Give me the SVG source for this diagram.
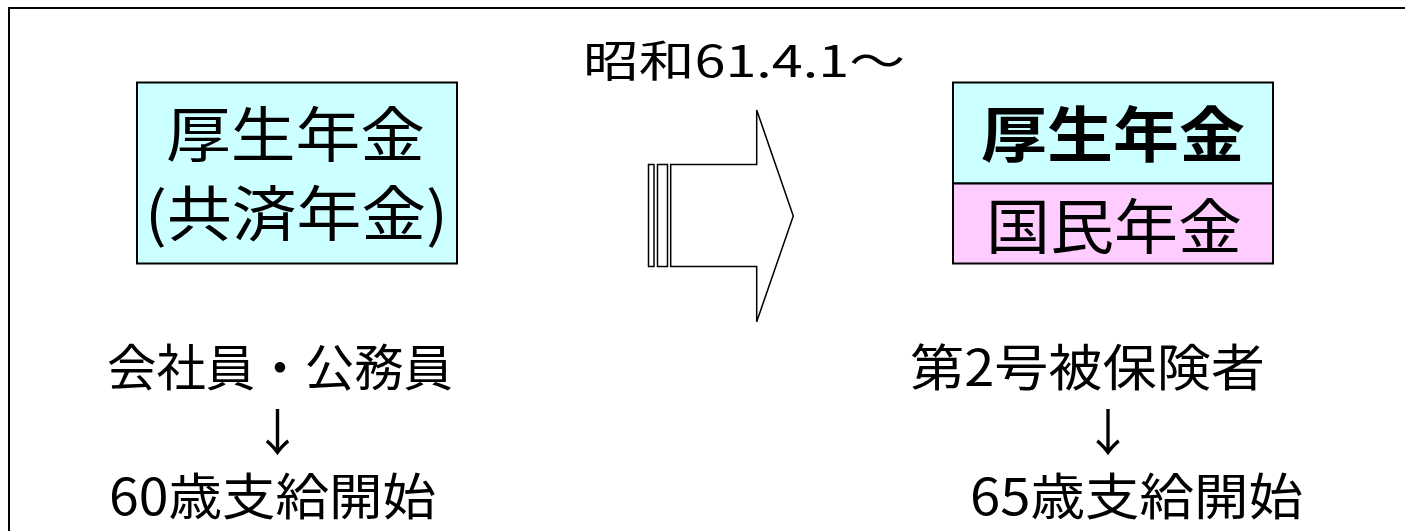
<svg xmlns="http://www.w3.org/2000/svg" width="1405" height="531" viewBox="0 0 1405 531">
<style>
text{font-family:"Noto Sans CJK JP","Noto Sans CJK SC",sans-serif;fill:#000}
.big{font-size:60px}
.mid{font-size:50px}
.top{font-size:43px}
.box{stroke:#000;stroke-width:2}
.arr{fill:#fff;stroke:#000;stroke-width:1.5}
</style>
<rect x="0" y="0" width="1405" height="531" fill="#fff"/>
<rect x="9" y="8" width="1420" height="560" fill="none" stroke="#000" stroke-width="2"/>
<g id="node-left">
<rect class="box" x="137" y="82.5" width="320" height="181" fill="#CCFFFF"/>
<text class="big" x="166" y="157" textLength="259" lengthAdjust="spacingAndGlyphs">厚生年金</text>
<text class="big" x="145" y="236" textLength="303" lengthAdjust="spacingAndGlyphs">(共済年金)</text>
</g>
<g id="node-right">
<rect class="box" x="953" y="82.5" width="320" height="101" fill="#CCFFFF"/>
<rect class="box" x="953" y="183.5" width="320" height="80" fill="#FFCCFF"/>
<text class="big" x="981" y="157" font-size="62" font-weight="bold" textLength="264" lengthAdjust="spacingAndGlyphs">厚生年金</text>
<text class="big" x="986" y="249" textLength="256" lengthAdjust="spacingAndGlyphs">国民年金</text>
</g>
<g id="label-date">
<text class="top" x="583" y="77" textLength="322" lengthAdjust="spacingAndGlyphs">昭和61.4.1～</text>
</g>
<g id="node-left-desc">
<text class="mid" x="107" y="386" textLength="346" lengthAdjust="spacingAndGlyphs">会社員・公務員</text>
<text class="mid" x="277.5" y="451" text-anchor="middle">↓</text>
<text class="mid" x="109" y="515" textLength="327" lengthAdjust="spacingAndGlyphs">60歳支給開始</text>
</g>
<g id="node-right-desc">
<text class="mid" x="910" y="386" textLength="355" lengthAdjust="spacingAndGlyphs">第2号被保険者</text>
<text class="mid" x="1108" y="451" text-anchor="middle">↓</text>
<text class="mid" x="970" y="515" textLength="333" lengthAdjust="spacingAndGlyphs">65歳支給開始</text>
</g>
<g id="connectors">
<rect class="arr" x="648.5" y="164.5" width="5.5" height="102"/>
<rect class="arr" x="657.5" y="164.5" width="10" height="102"/>
<polygon class="arr" points="670.7,164.5 756.7,164.5 756.7,110 793.3,216 756.7,321.7 756.7,266.5 670.7,266.5"/>
</g>
</svg>
